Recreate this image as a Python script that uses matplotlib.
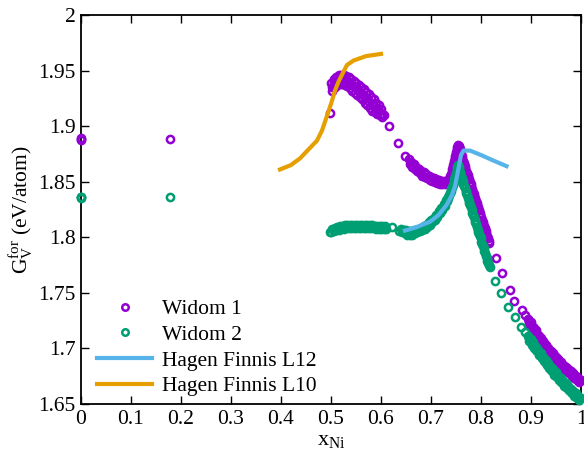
import matplotlib
matplotlib.use("Agg")
import matplotlib.pyplot as plt

plt.rcParams['font.family'] = ['Liberation Serif', 'DejaVu Serif']
plt.rcParams['mathtext.fontset'] = 'custom'
plt.rcParams['mathtext.rm'] = 'Liberation Serif'
plt.rcParams['mathtext.it'] = 'Liberation Serif:italic'

# ---------------- data ----------------
# Widom 1 (purple)
w1_x_a = [0.0, 0.0, 0.0, 0.178, 0.497]
w1_y_a = [1.8875, 1.888, 1.889, 1.888, 1.912]

w1_x_b = [0.5000, 0.5025, 0.5050, 0.5075, 0.5100, 0.5125, 0.5150, 0.5175, 0.5200, 0.5225,
          0.5250, 0.5275, 0.5300, 0.5325, 0.5350, 0.5375, 0.5400, 0.5425, 0.5450, 0.5475,
          0.5500, 0.5525, 0.5550, 0.5575, 0.5600, 0.5625, 0.5650, 0.5675, 0.5700, 0.5725,
          0.5750, 0.5775, 0.5800, 0.5825, 0.5850, 0.5875, 0.5900, 0.5925, 0.5950, 0.5975,
          0.6000, 0.6025, 0.6050]
w1_y_b = [1.939, 1.932, 1.942, 1.935, 1.944, 1.937, 1.946, 1.938, 1.946, 1.938,
          1.946, 1.937, 1.945, 1.936, 1.944, 1.934, 1.942, 1.932, 1.941, 1.930,
          1.939, 1.928, 1.937, 1.926, 1.935, 1.924, 1.933, 1.921, 1.931, 1.919,
          1.929, 1.916, 1.926, 1.914, 1.924, 1.913, 1.921, 1.911, 1.919, 1.910,
          1.915, 1.908, 1.910]

w1_x_b2 = [0.501, 0.506, 0.511, 0.516, 0.521, 0.526, 0.531, 0.536, 0.541, 0.546,
           0.551, 0.556, 0.561, 0.566, 0.571, 0.576, 0.581, 0.586, 0.591, 0.596,
           0.601]
w1_y_b2 = [1.935, 1.940, 1.942, 1.943, 1.943, 1.942, 1.941, 1.940, 1.937, 1.936,
           1.934, 1.932, 1.929, 1.927, 1.925, 1.922, 1.920, 1.918, 1.916, 1.914,
           1.911]

w1_x_c = [0.616, 0.634, 0.648]
w1_y_c = [1.900, 1.885, 1.873]

w1_x_d = [0.6550, 0.6575, 0.6600, 0.6625, 0.6650, 0.6675, 0.6700, 0.6725, 0.6750, 0.6775,
          0.6800, 0.6825, 0.6850, 0.6875, 0.6900, 0.6925, 0.6950, 0.6975, 0.7000, 0.7025,
          0.7050, 0.7075, 0.7100, 0.7125, 0.7150, 0.7175, 0.7200, 0.7225, 0.7250, 0.7275,
          0.7300, 0.7325]
w1_y_d = [1.8705, 1.8655, 1.8675, 1.8635, 1.8655, 1.8615, 1.8635, 1.8595, 1.8615, 1.8575,
          1.8595, 1.8555, 1.8585, 1.8545, 1.8565, 1.8535, 1.8555, 1.8515, 1.8545, 1.8505,
          1.8535, 1.8495, 1.8525, 1.8485, 1.8515, 1.8475, 1.8505, 1.8475, 1.8505, 1.8475,
          1.8505, 1.8485]

w1_x_e = [0.7340, 0.7355, 0.7370, 0.7385, 0.7400, 0.7410, 0.7420, 0.7430, 0.7440, 0.7450,
          0.7460, 0.7470, 0.7480, 0.7490, 0.7500, 0.7510, 0.7520, 0.7530, 0.7540, 0.7550,
          0.7560, 0.7570]
w1_y_e = [1.851, 1.852, 1.853, 1.855, 1.857, 1.859, 1.861, 1.863, 1.865, 1.867,
          1.869, 1.871, 1.873, 1.875, 1.877, 1.879, 1.881, 1.882, 1.883, 1.882,
          1.881, 1.879]

w1_x_f = [0.7580, 0.7595, 0.7610, 0.7625, 0.7640, 0.7655, 0.7670, 0.7685, 0.7700, 0.7715,
          0.7730, 0.7745, 0.7760, 0.7775, 0.7790, 0.7805, 0.7820, 0.7835, 0.7850, 0.7865,
          0.7880, 0.7895, 0.7910, 0.7925, 0.7940, 0.7955, 0.7970, 0.7985, 0.8000, 0.8015,
          0.8030, 0.8045, 0.8060, 0.8075, 0.8090, 0.8105, 0.8120, 0.8135, 0.8150, 0.8165]
w1_y_f = [1.877, 1.875, 1.873, 1.871, 1.869, 1.867, 1.864, 1.862, 1.860, 1.858,
          1.856, 1.854, 1.852, 1.850, 1.848, 1.846, 1.843, 1.841, 1.839, 1.837,
          1.835, 1.833, 1.831, 1.829, 1.827, 1.825, 1.822, 1.820, 1.818, 1.816,
          1.814, 1.812, 1.810, 1.808, 1.806, 1.804, 1.801, 1.799, 1.797, 1.795]

w1_x_g = [0.830, 0.842, 0.858, 0.866, 0.882, 0.888]
w1_y_g = [1.781, 1.768, 1.753, 1.743, 1.735, 1.730]

w1_x_h = [0.8940, 0.8965, 0.8990, 0.9015, 0.9040, 0.9065, 0.9090, 0.9115, 0.9140, 0.9165,
          0.9190, 0.9215, 0.9240, 0.9265, 0.9290, 0.9315, 0.9340, 0.9365, 0.9390, 0.9415,
          0.9440, 0.9465, 0.9490, 0.9515, 0.9540, 0.9565, 0.9590, 0.9615, 0.9640, 0.9665,
          0.9690, 0.9715, 0.9740, 0.9765, 0.9790, 0.9815, 0.9840, 0.9865, 0.9890, 0.9915,
          0.9940, 0.9965, 0.9990]
w1_y_h = [1.7265, 1.7215, 1.7235, 1.7185, 1.7195, 1.7145, 1.7165, 1.7115, 1.7125, 1.7075,
          1.7095, 1.7045, 1.7065, 1.7015, 1.7035, 1.6985, 1.7005, 1.6955, 1.6975, 1.6935,
          1.6955, 1.6905, 1.6925, 1.6885, 1.6905, 1.6855, 1.6875, 1.6835, 1.6855, 1.6815,
          1.6835, 1.6795, 1.6815, 1.6775, 1.6795, 1.6755, 1.6775, 1.6735, 1.6755, 1.6715,
          1.6735, 1.6695, 1.6715]

w1_x_h2 = [0.895, 0.900, 0.905, 0.910, 0.915, 0.920, 0.925, 0.930, 0.935, 0.940,
           0.945, 0.950, 0.955, 0.960, 0.965, 0.970, 0.975, 0.980, 0.985, 0.990,
           0.995]
w1_y_h2 = [1.724, 1.721, 1.718, 1.714, 1.711, 1.708, 1.705, 1.702, 1.699, 1.696,
           1.694, 1.691, 1.689, 1.686, 1.684, 1.682, 1.680, 1.678, 1.676, 1.674,
           1.672]

# Widom 2 (green)
w2_x_a = [0.0, 0.0, 0.0, 0.178]
w2_y_a = [1.835, 1.836, 1.8365, 1.836]

w2_x_b = [0.4975, 0.5000, 0.5025, 0.5050, 0.5075, 0.5100, 0.5125, 0.5150, 0.5175, 0.5200,
          0.5225, 0.5250, 0.5275, 0.5300, 0.5325, 0.5350, 0.5375, 0.5400, 0.5425, 0.5450,
          0.5475, 0.5500, 0.5525, 0.5550, 0.5575, 0.5600, 0.5625, 0.5650, 0.5675, 0.5700,
          0.5725, 0.5750, 0.5775, 0.5800, 0.5825, 0.5850, 0.5875, 0.5900, 0.5925, 0.5950,
          0.5975, 0.6000, 0.6025, 0.6050, 0.6075, 0.6100]
w2_y_b = [1.8045, 1.8045, 1.8075, 1.8055, 1.8085, 1.8065, 1.8095, 1.8065, 1.8105, 1.8075,
          1.8105, 1.8075, 1.8115, 1.8085, 1.8115, 1.8085, 1.8115, 1.8085, 1.8115, 1.8085,
          1.8115, 1.8085, 1.8115, 1.8085, 1.8115, 1.8085, 1.8115, 1.8085, 1.8115, 1.8085,
          1.8115, 1.8085, 1.8115, 1.8085, 1.8115, 1.8085, 1.8105, 1.8075, 1.8105, 1.8075,
          1.8105, 1.8075, 1.8105, 1.8075, 1.8105, 1.8075]

w2_x_c = [0.621, 0.635]
w2_y_c = [1.809, 1.806]

w2_x_d = [0.6400, 0.6425, 0.6450, 0.6475, 0.6500, 0.6525, 0.6550, 0.6575, 0.6600, 0.6625,
          0.6650, 0.6675, 0.6700, 0.6725, 0.6750, 0.6775, 0.6800, 0.6825, 0.6850, 0.6875,
          0.6900, 0.6925, 0.6950, 0.6975, 0.7000, 0.7025, 0.7050, 0.7075, 0.7100, 0.7125,
          0.7150, 0.7175, 0.7200, 0.7225, 0.7250, 0.7275, 0.7300]
w2_y_d = [1.8075, 1.8045, 1.8065, 1.8035, 1.8065, 1.8025, 1.8055, 1.8025, 1.8055, 1.8025,
          1.8065, 1.8035, 1.8065, 1.8045, 1.8075, 1.8055, 1.8085, 1.8065, 1.8105, 1.8075,
          1.8115, 1.8095, 1.8135, 1.8115, 1.8155, 1.8135, 1.8175, 1.8155, 1.8205, 1.8185,
          1.8235, 1.8215, 1.8265, 1.8245, 1.8295, 1.8285, 1.8335]

w2_x_e = [0.7315, 0.7330, 0.7345, 0.7360, 0.7375, 0.7390, 0.7405, 0.7420, 0.7435, 0.7450,
          0.7465, 0.7480, 0.7495, 0.7510, 0.7520, 0.7530, 0.7540, 0.7550, 0.7560]
w2_y_e = [1.833, 1.835, 1.836, 1.838, 1.840, 1.842, 1.843, 1.845, 1.847, 1.850,
          1.852, 1.855, 1.858, 1.861, 1.863, 1.865, 1.865, 1.863, 1.861]

w2_x_f = [0.7570, 0.7585, 0.7600, 0.7615, 0.7630, 0.7645, 0.7660, 0.7675, 0.7690, 0.7705,
          0.7720, 0.7735, 0.7750, 0.7765, 0.7780, 0.7795, 0.7810, 0.7825, 0.7840, 0.7855,
          0.7870, 0.7885, 0.7900, 0.7915, 0.7930, 0.7945, 0.7960, 0.7975, 0.7990, 0.8005,
          0.8020, 0.8035, 0.8050, 0.8065, 0.8080, 0.8095, 0.8110, 0.8125, 0.8140, 0.8155,
          0.8170]
w2_y_f = [1.859, 1.857, 1.855, 1.853, 1.851, 1.848, 1.846, 1.844, 1.842, 1.840,
          1.838, 1.835, 1.833, 1.831, 1.829, 1.827, 1.825, 1.822, 1.820, 1.818,
          1.816, 1.814, 1.812, 1.809, 1.807, 1.805, 1.803, 1.801, 1.799, 1.796,
          1.794, 1.792, 1.790, 1.788, 1.786, 1.783, 1.781, 1.779, 1.777, 1.775,
          1.773]

w2_x_g = [0.828, 0.840, 0.854, 0.868, 0.879, 0.888]
w2_y_g = [1.761, 1.750, 1.737, 1.728, 1.719, 1.715]

w2_x_h = [0.8940, 0.8965, 0.8990, 0.9015, 0.9040, 0.9065, 0.9090, 0.9115, 0.9140, 0.9165,
          0.9190, 0.9215, 0.9240, 0.9265, 0.9290, 0.9315, 0.9340, 0.9365, 0.9390, 0.9415,
          0.9440, 0.9465, 0.9490, 0.9515, 0.9540, 0.9565, 0.9590, 0.9615, 0.9640, 0.9665,
          0.9690, 0.9715, 0.9740, 0.9765, 0.9790, 0.9815, 0.9840, 0.9865, 0.9890, 0.9915,
          0.9940, 0.9965, 0.9990]
w2_y_h = [1.7115, 1.7065, 1.7085, 1.7035, 1.7055, 1.7005, 1.7015, 1.6975, 1.6985, 1.6945,
          1.6955, 1.6915, 1.6925, 1.6885, 1.6895, 1.6855, 1.6865, 1.6825, 1.6835, 1.6795,
          1.6815, 1.6765, 1.6785, 1.6745, 1.6755, 1.6715, 1.6735, 1.6695, 1.6705, 1.6665,
          1.6685, 1.6645, 1.6665, 1.6625, 1.6635, 1.6595, 1.6615, 1.6575, 1.6595, 1.6555,
          1.6575, 1.6535, 1.6555]

w2_x_h2 = [0.895, 0.900, 0.905, 0.910, 0.915, 0.920, 0.925, 0.930, 0.935, 0.940,
           0.945, 0.950, 0.955, 0.960, 0.965, 0.970, 0.975, 0.980, 0.985, 0.990,
           0.995]
w2_y_h2 = [1.709, 1.706, 1.703, 1.699, 1.696, 1.693, 1.690, 1.687, 1.684, 1.681,
           1.678, 1.675, 1.673, 1.670, 1.668, 1.665, 1.663, 1.661, 1.659, 1.657,
           1.655]

# Hagen Finnis curves
l12_x = [0.648, 0.670, 0.698, 0.715, 0.731, 0.742, 0.748, 0.755, 0.760, 0.765,
         0.778, 0.800, 0.825, 0.851]
l12_y = [1.806, 1.809, 1.814, 1.820, 1.829, 1.838, 1.846, 1.862, 1.874, 1.878,
         1.878, 1.874, 1.869, 1.864]

l10_x = [0.398, 0.420, 0.438, 0.455, 0.472, 0.482, 0.491, 0.500, 0.508, 0.515,
         0.525, 0.532, 0.545, 0.570, 0.600]
l10_y = [1.861, 1.865, 1.871, 1.879, 1.887, 1.896, 1.908, 1.920, 1.932, 1.940,
         1.949, 1.955, 1.959, 1.963, 1.965]

labels = ["Widom 1", "Widom 2", "Hagen Finnis L12", "Hagen Finnis L10"]
colors = ["#9400D3", "#009E73", "#56B4E9", "#E69F00"]

x_ticks = [0, 0.1, 0.2, 0.3, 0.4, 0.5, 0.6, 0.7, 0.8, 0.9, 1.0]
x_tick_labels = ["0", "0.1", "0.2", "0.3", "0.4", "0.5", "0.6", "0.7", "0.8", "0.9", "1"]
y_ticks = [1.65, 1.7, 1.75, 1.8, 1.85, 1.9, 1.95, 2.0]
y_tick_labels = ["1.65", "1.7", "1.75", "1.8", "1.85", "1.9", "1.95", "2"]

widom1_x = (w1_x_a + w1_x_b + w1_x_b2 + w1_x_c + w1_x_d + w1_x_e + w1_x_f + w1_x_g
            + w1_x_h + w1_x_h2)
widom1_y = (w1_y_a + w1_y_b + w1_y_b2 + w1_y_c + w1_y_d + w1_y_e + w1_y_f + w1_y_g
            + w1_y_h + w1_y_h2)
widom2_x = w2_x_a + w2_x_b + w2_x_c + w2_x_d + w2_x_e + w2_x_f + w2_x_g + w2_x_h + w2_x_h2
widom2_y = w2_y_a + w2_y_b + w2_y_c + w2_y_d + w2_y_e + w2_y_f + w2_y_g + w2_y_h + w2_y_h2

# ---------------- plot ----------------
fig = plt.figure(figsize=(5.84, 4.59), dpi=100)
ax = fig.add_axes([81 / 584, 1 - 404 / 459, 500 / 584, 389 / 459])

ms = 5.2
mew = 1.8
ax.plot(widom1_x, widom1_y, 'o', ls='none', mfc='none', mec=colors[0], ms=ms,
        mew=mew, label=labels[0], clip_on=False, zorder=3)
ax.plot(widom2_x, widom2_y, 'o', ls='none', mfc='none', mec=colors[1], ms=ms,
        mew=mew, label=labels[1], clip_on=False, zorder=3)
ax.plot(l12_x, l12_y, '-', color=colors[2], lw=3, label=labels[2], zorder=4)
ax.plot(l10_x, l10_y, '-', color=colors[3], lw=3, label=labels[3], zorder=4)

ax.set_xlim(0, 1)
ax.set_ylim(1.65, 2.0)
ax.set_xticks(x_ticks)
ax.set_xticklabels(x_tick_labels)
ax.set_yticks(y_ticks)
ax.set_yticklabels(y_tick_labels)
ax.tick_params(direction='in', length=6, width=1, top=True, right=True,
               labelsize=15.5, pad=4)
for s in ax.spines.values():
    s.set_linewidth(1.3)

ax.set_xlabel(r'$\mathrm{x}_{\mathrm{Ni}}$', fontsize=16, labelpad=2)
ax.set_ylabel(r'$\mathrm{G}^{\mathrm{for}}_{\mathrm{V}}$ (eV/atom)', fontsize=15.5,
              labelpad=2)

leg = ax.legend(loc='lower left', bbox_to_anchor=(0.032, 0.02), frameon=False,
                fontsize=15.5, handlelength=2.56, handletextpad=0.47,
                labelspacing=0.26, borderaxespad=0, borderpad=0, markerscale=0.9)

fig.savefig("out.png", dpi=100)
